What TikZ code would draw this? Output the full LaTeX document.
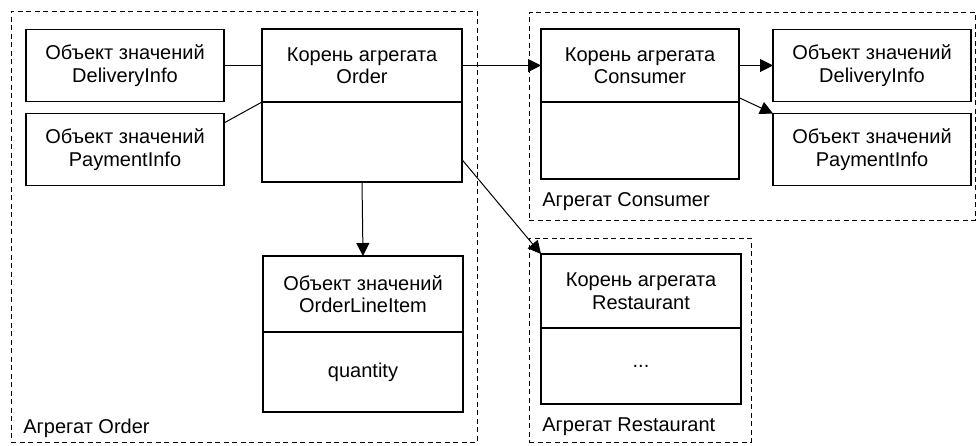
\documentclass[tikz,border=0pt]{standalone}
\usepackage{fontspec}
\setmainfont{Liberation Sans}
\usetikzlibrary{positioning,arrows.meta}

\begin{document}
\begin{tikzpicture}[x=1pt,y=-1pt,font=\fontsize{20}{22.5}\selectfont,
    every node/.style={outer sep=0pt},
    aggbox/.style={draw,line width=0.9pt,dash pattern=on 5pt off 3.5pt,inner sep=0pt},
    headbox/.style={draw,line width=1.3pt,minimum width=200pt,minimum height=73pt,align=center,inner sep=0pt},
    bodybox/.style={draw,line width=1.3pt,minimum width=200pt,minimum height=78pt,align=center,inner sep=0pt},
    valbox/.style={draw,line width=1.3pt,minimum width=198pt,minimum height=72pt,align=center,inner sep=0pt},
    conn/.style={line width=1pt},
    arr/.style={conn,-{Triangle[length=13pt,width=13pt]}}]
  \useasboundingbox (0,0) rectangle (977,445);

  % aggregate frames
  \node[aggbox,minimum width=466pt,minimum height=431pt] (ordagg) at (244,226.5) {};
  \node[aggbox,minimum width=446pt,minimum height=208pt] (conagg) at (752,116) {};
  \node[aggbox,minimum width=222pt,minimum height=204pt] (resagg) at (640,340) {};

  % Order aggregate
  \node[headbox] (ordtop) at (362,65.5) {Корень агрегата\\Order};
  \node[bodybox,minimum height=80pt,below=0pt of ordtop] (ordbot) {};
  \node[valbox,left=38pt of ordtop] (dlv1) {Объект значений\\DeliveryInfo};
  \node[valbox,below=12pt of dlv1] (pay1) {Объект значений\\PaymentInfo};
  \node[headbox,minimum height=76pt] (olitop) at (363,294) {Объект значений\\OrderLineItem};
  \node[bodybox,minimum height=80pt,below=0pt of olitop] (olibot) {quantity};
  \node[anchor=west] (ordlbl) at (20,428) {Агрегат Order};

  % Consumer aggregate
  \node[headbox,minimum width=198pt] (contop) at (640,65.5) {Корень агрегата\\Consumer};
  \node[bodybox,minimum width=198pt,minimum height=77pt,below=0pt of contop] (conbot) {};
  \node[valbox,right=34pt of contop] (dlv2) {Объект значений\\DeliveryInfo};
  \node[valbox,below=12pt of dlv2] (pay2) {Объект значений\\PaymentInfo};
  \node[anchor=west] (conlbl) at (539,202) {Агрегат Consumer};

  % Restaurant aggregate
  \node[headbox,minimum height=74pt] (restop) at (641,291) {Корень агрегата\\Restaurant};
  \node[bodybox,minimum height=76pt,below=0pt of restop] (resbot) {...};
  \node[anchor=west] (reslbl) at (539,427) {Агрегат Restaurant};

  % connectors
  \draw[conn] (dlv1.east) -- (ordtop.west);
  \draw[conn] (pay1.15) -- (ordtop.south west);
  \draw[arr] (ordtop.east) -- (contop.west);
  \draw[arr] (ordbot.south) -- (olitop.north);
  \draw[arr] (ordbot.-10) -- (restop.north west);
  \draw[arr] (contop.east) -- (dlv2.west);
  \draw[arr] (contop.-18) -- (pay2.north west);
\end{tikzpicture}
\end{document}
